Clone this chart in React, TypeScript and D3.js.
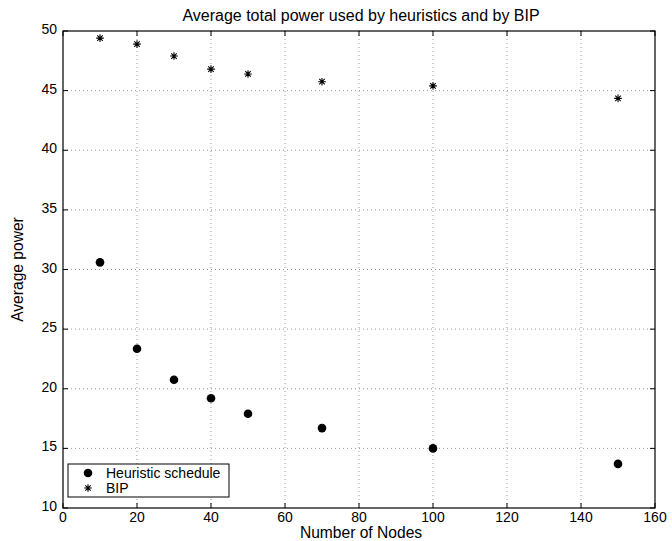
import React, { useEffect, useRef } from "react";
import * as d3 from "d3";

const nodes = [10, 20, 30, 40, 50, 70, 100, 150];
const heuristicPower = [30.6, 23.35, 20.75, 19.2, 17.9, 16.7, 15.0, 13.7];
const bipPower = [49.4, 48.9, 47.9, 46.8, 46.4, 45.75, 45.4, 44.35];
const xTicks = [0, 20, 40, 60, 80, 100, 120, 140, 160];
const yTicks = [10, 15, 20, 25, 30, 35, 40, 45, 50];
const legendLabels = ["Heuristic schedule", "BIP"];

const W = 672;
const H = 541;
const margin = { left: 63, right: 17, top: 31, bottom: 33 };
const font = "'Liberation Sans', Arial, Helvetica, sans-serif";

// MATLAB-style '*' marker: plus + cross
const starPath = (r: number) => {
  const d = r * 0.72;
  return `M${-r},0L${r},0M0,${-r}L0,${r}M${-d},${-d}L${d},${d}M${-d},${d}L${d},${-d}`;
};

const App = () => {
  const svgRef = useRef<SVGSVGElement>(null);

  useEffect(() => {
    const svg = d3.select(svgRef.current);
    svg.selectAll("*").remove();

    const x = d3
      .scaleLinear()
      .domain([0, 160])
      .range([margin.left, W - margin.right]);
    const y = d3
      .scaleLinear()
      .domain([10, 50])
      .range([H - margin.bottom, margin.top]);

    const x0 = x.range()[0], x1 = x.range()[1];
    const y0 = y.range()[0], y1 = y.range()[1];

    svg.append("rect").attr("width", W).attr("height", H).attr("fill", "#fff");

    // grid
    const grid = svg.append("g").attr("stroke", "#555").attr("stroke-width", 0.6).attr("stroke-dasharray", "1,3");
    xTicks.slice(1, -1).forEach((t) => {
      grid.append("line").attr("x1", x(t)).attr("x2", x(t)).attr("y1", y0).attr("y2", y1);
    });
    yTicks.slice(1, -1).forEach((t) => {
      grid.append("line").attr("x1", x0).attr("x2", x1).attr("y1", y(t)).attr("y2", y(t));
    });

    // ticks (inward, all four sides)
    const tk = svg.append("g").attr("stroke", "#000").attr("stroke-width", 1);
    const tl = 5;
    xTicks.forEach((t) => {
      tk.append("line").attr("x1", x(t)).attr("x2", x(t)).attr("y1", y0).attr("y2", y0 - tl);
      tk.append("line").attr("x1", x(t)).attr("x2", x(t)).attr("y1", y1).attr("y2", y1 + tl);
    });
    yTicks.forEach((t) => {
      tk.append("line").attr("x1", x0).attr("x2", x0 + tl).attr("y1", y(t)).attr("y2", y(t));
      tk.append("line").attr("x1", x1).attr("x2", x1 - tl).attr("y1", y(t)).attr("y2", y(t));
    });

    // box
    svg
      .append("rect")
      .attr("x", x0)
      .attr("y", y1)
      .attr("width", x1 - x0)
      .attr("height", y0 - y1)
      .attr("fill", "none")
      .attr("stroke", "#000")
      .attr("stroke-width", 1.2);

    // tick labels
    const labels = svg.append("g").attr("font-family", font).attr("font-size", 14).attr("fill", "#000");
    xTicks.forEach((t) => {
      labels.append("text").attr("x", x(t)).attr("y", y0 + 14).attr("text-anchor", "middle").text(t);
    });
    yTicks.forEach((t) => {
      labels.append("text").attr("x", x0 - 6).attr("y", y(t) + 3).attr("text-anchor", "end").text(t);
    });

    // titles
    svg
      .append("text")
      .attr("x", (x0 + x1) / 2 + 2)
      .attr("y", 21)
      .attr("text-anchor", "middle")
      .attr("font-family", font)
      .attr("font-size", 16)
      .text("Average total power used by heuristics and by BIP");
    svg
      .append("text")
      .attr("x", (x0 + x1) / 2 + 2)
      .attr("y", 538)
      .attr("text-anchor", "middle")
      .attr("font-family", font)
      .attr("font-size", 15.6)
      .text("Number of Nodes");
    svg
      .append("text")
      .attr("transform", `translate(23,${(y0 + y1) / 2}) rotate(-90)`)
      .attr("text-anchor", "middle")
      .attr("font-family", font)
      .attr("font-size", 15.6)
      .text("Average power");

    // data
    svg
      .append("g")
      .selectAll("circle")
      .data(nodes)
      .enter()
      .append("circle")
      .attr("cx", (d) => x(d))
      .attr("cy", (d, i) => y(heuristicPower[i]))
      .attr("r", 4.3)
      .attr("fill", "#000");

    svg
      .append("g")
      .selectAll("path")
      .data(nodes)
      .enter()
      .append("path")
      .attr("transform", (d, i) => `translate(${x(d)},${y(bipPower[i])})`)
      .attr("d", starPath(3.8))
      .attr("stroke", "#000")
      .attr("stroke-width", 1.1)
      .attr("fill", "none");

    // legend
    const lg = svg.append("g");
    lg.append("rect")
      .attr("x", 68)
      .attr("y", 464)
      .attr("width", 161)
      .attr("height", 33)
      .attr("fill", "#fff")
      .attr("stroke", "#000")
      .attr("stroke-width", 1);
    lg.append("circle").attr("cx", 88).attr("cy", 473).attr("r", 4.3).attr("fill", "#000");
    lg.append("path")
      .attr("transform", "translate(88,488)")
      .attr("d", starPath(3.8))
      .attr("stroke", "#000")
      .attr("stroke-width", 1.1);
    legendLabels.forEach((l, i) => {
      lg.append("text")
        .attr("x", 106)
        .attr("y", 478 + i * 15)
        .attr("font-family", font)
        .attr("font-size", 14)
        .text(l);
    });
  }, []);

  return (
    <div style={{ position: "fixed", left: 0, top: 0 }}>
      <svg ref={svgRef} width={W} height={H} style={{ display: "block" }} />
    </div>
  );
};

export default App;
